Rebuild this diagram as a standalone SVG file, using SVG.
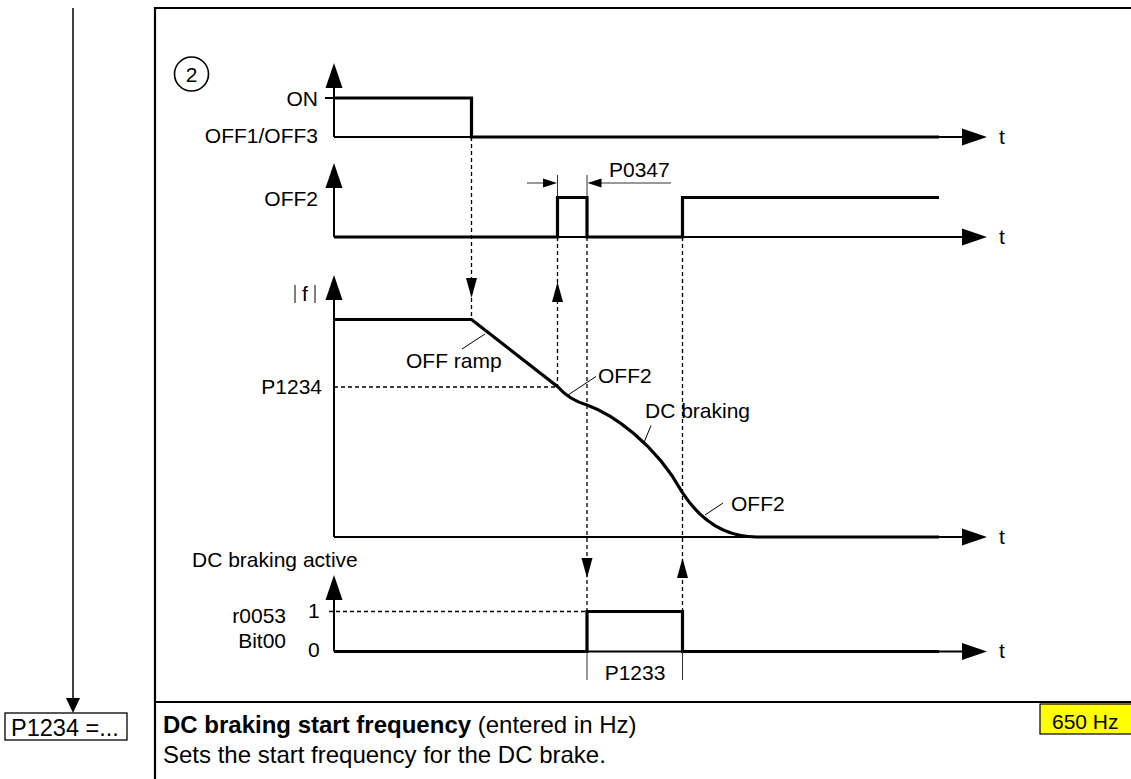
<svg xmlns="http://www.w3.org/2000/svg" xmlns:xlink="http://www.w3.org/1999/xlink" width="1131" height="779" viewBox="0 0 1131 779">
<style>
text{font-family:"Liberation Sans",Arial,sans-serif;fill:#000}
.lbl{font-size:21px}
.desc{font-size:24px}
.box{font-size:23.5px}
.bold{font-weight:bold}
.axis{stroke:#000;stroke-width:2;fill:none}
.thin{stroke:#000;stroke-width:1.5;fill:none}
.sig{stroke:#000;stroke-width:3.2;fill:none;stroke-linejoin:miter}
.dash{stroke:#000;stroke-width:1.3;fill:none;stroke-dasharray:4,3}
.lead{stroke:#000;stroke-width:1;fill:none}
.tick{stroke:#333;stroke-width:1;fill:none}
.frame{stroke:#000;stroke-width:2.2;fill:none}
.ah{fill:#000;stroke:none}
</style>
<defs>
<polygon id="ahUp" class="ah" points="0,0 -8.5,25 8.5,25"/>
<polygon id="ahRight" class="ah" points="0,0 -25,-8.5 -25,8.5"/>
<polygon id="dDown" class="ah" points="0,0 -5.5,-20 5.5,-20"/>
<polygon id="dUp" class="ah" points="0,0 -5.5,20 5.5,20"/>
<polygon id="dimR" class="ah" points="0,0 -14,-4.5 -14,4.5"/>
<polygon id="dimL" class="ah" points="0,0 14,-4.5 14,4.5"/>
<polygon id="ahDown" class="ah" points="0,0 -7,-15 7,-15"/>
</defs>

<!-- left flow line and parameter box -->
<g id="flow">
<line class="thin" x1="73" y1="8" x2="73" y2="700"/>
<use xlink:href="#ahDown" x="73" y="713"/>
</g>
<g id="param-box">
<rect x="5" y="713" width="122" height="27" fill="#fff" stroke="#000" stroke-width="1.3"/>
<text class="box" x="11" y="736">P1234 =...</text>
</g>

<!-- frame -->
<g id="frame">
<polyline class="frame" points="155,779 155,8 1135,8"/>
<line class="frame" x1="155" y1="702" x2="1135" y2="702"/>
</g>

<g id="marker-2">
<circle cx="191.5" cy="74" r="17" fill="none" stroke="#000" stroke-width="1.6"/>
<text class="lbl" x="191.5" y="81.5" text-anchor="middle">2</text>
</g>

<!-- Panel 1: ON / OFF1/OFF3 -->
<g id="panel-on-off">
<line class="axis" x1="334" y1="85" x2="334" y2="137"/>
<use xlink:href="#ahUp" x="334" y="63"/>
<line class="axis" x1="334" y1="137" x2="964" y2="137"/>
<use xlink:href="#ahRight" x="987" y="137"/>
<line class="axis" x1="325" y1="98" x2="334" y2="98"/>
<polyline class="sig" points="334,98 471.5,98 471.5,137 939,137"/>
<text class="lbl" x="318" y="106" text-anchor="end">ON</text>
<text class="lbl" x="318" y="143" text-anchor="end">OFF1/OFF3</text>
<text class="lbl" x="999" y="144">t</text>
</g>

<!-- Panel 2: OFF2 -->
<g id="panel-off2">
<line class="axis" x1="334" y1="185" x2="334" y2="237"/>
<use xlink:href="#ahUp" x="334" y="163"/>
<line class="axis" x1="334" y1="237" x2="964" y2="237"/>
<use xlink:href="#ahRight" x="987" y="237"/>
<polyline class="sig" points="334,237 557.5,237 557.5,197.5 587,197.5 587,237 682.5,237 682.5,197.5 939,197.5"/>
<text class="lbl" x="318" y="206" text-anchor="end">OFF2</text>
<text class="lbl" x="999" y="244">t</text>
</g>

<g id="dim-p0347">
<line class="tick" x1="557.5" y1="175" x2="557.5" y2="197"/>
<line class="tick" x1="587" y1="175" x2="587" y2="197"/>
<line class="tick" x1="527" y1="183" x2="545" y2="183"/>
<use xlink:href="#dimR" x="557" y="183"/>
<line class="tick" x1="599" y1="183" x2="671" y2="183"/>
<use xlink:href="#dimL" x="587.5" y="183"/>
<text class="lbl" x="609" y="177">P0347</text>
</g>

<!-- Panel 3: |f| -->
<g id="panel-freq">
<line class="axis" x1="334" y1="297" x2="334" y2="537"/>
<use xlink:href="#ahUp" x="334" y="275"/>
<line class="axis" x1="334" y1="537" x2="964" y2="537"/>
<use xlink:href="#ahRight" x="987" y="537"/>
<line class="lead" x1="295" y1="285" x2="295" y2="303"/>
<line class="lead" x1="315" y1="285" x2="315" y2="303"/>
<text class="lbl" x="305" y="301" text-anchor="middle">f</text>
<line class="dash" x1="334" y1="387" x2="558" y2="387"/>
<path class="sig" d="M334,319.5 L471.5,319.5 L558,387 C565,395 573,401 587,405 C612,414 655,443 682,492 C700,520 725,537 757,537 L939,537"/>
<text class="lbl" x="322" y="394" text-anchor="end">P1234</text>
<text class="lbl" x="999" y="544">t</text>
<line class="lead" x1="485" y1="334" x2="462" y2="349"/>
<text class="lbl" x="406" y="368">OFF ramp</text>
<line class="lead" x1="596" y1="376.5" x2="568" y2="395"/>
<text class="lbl" x="598" y="383">OFF2</text>
<line class="lead" x1="651" y1="425.5" x2="644" y2="442.5"/>
<text class="lbl" x="645" y="418">DC braking</text>
<line class="lead" x1="723" y1="503" x2="705" y2="515"/>
<text class="lbl" x="731" y="511">OFF2</text>
</g>

<!-- Panel 4: DC braking active -->
<g id="panel-dc-active">
<line class="axis" x1="334" y1="597" x2="334" y2="651.5"/>
<use xlink:href="#ahUp" x="334" y="575"/>
<line class="axis" x1="334" y1="651.5" x2="964" y2="651.5"/>
<use xlink:href="#ahRight" x="987" y="651.5"/>
<line class="dash" x1="329" y1="611.5" x2="587" y2="611.5"/>
<polyline class="sig" points="334,651.5 587,651.5 587,611.5 682.5,611.5 682.5,651.5 939,651.5"/>
<text class="lbl" x="192" y="567">DC braking active</text>
<text class="lbl" x="286" y="623" text-anchor="end">r0053</text>
<text class="lbl" x="286" y="648" text-anchor="end">Bit00</text>
<text class="lbl" x="308" y="618">1</text>
<text class="lbl" x="308" y="657">0</text>
<text class="lbl" x="999" y="658">t</text>
<line class="tick" x1="587" y1="652" x2="587" y2="680"/>
<line class="tick" x1="682.5" y1="652" x2="682.5" y2="680"/>
<text class="lbl" x="635" y="680" text-anchor="middle">P1233</text>
</g>

<!-- connectors: dashed event lines -->
<g id="connectors">
<line class="dash" x1="471.5" y1="137" x2="471.5" y2="319"/>
<use xlink:href="#dDown" x="471.5" y="298"/>
<line class="dash" x1="557.5" y1="237" x2="557.5" y2="387"/>
<use xlink:href="#dUp" x="557.5" y="282"/>
<line class="dash" x1="587" y1="237" x2="587" y2="611"/>
<use xlink:href="#dDown" x="587" y="578"/>
<line class="dash" x1="682.5" y1="237" x2="682.5" y2="611"/>
<use xlink:href="#dUp" x="682.5" y="558"/>
</g>

<!-- description -->
<g id="description">
<text class="desc" x="163" y="733"><tspan class="bold">DC braking start frequency</tspan> (entered in Hz)</text>
<text class="desc" x="163" y="763">Sets the start frequency for the DC brake.</text>
</g>
<g id="value-box">
<rect x="1040" y="704" width="95" height="30" fill="#ffff00" stroke="#000" stroke-width="1.2"/>
<text class="lbl" x="1052" y="729">650 Hz</text>
</g>
</svg>
